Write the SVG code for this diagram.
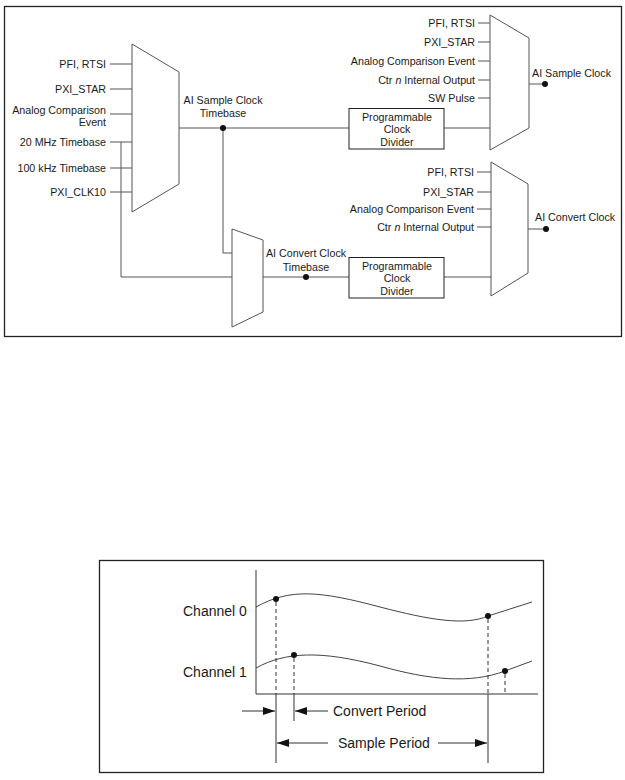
<svg xmlns="http://www.w3.org/2000/svg" width="625" height="780" viewBox="0 0 625 780">
<defs>
<style>
.frame{fill:none;stroke:#222;stroke-width:1.3}
.mux{fill:#fff;stroke:#555;stroke-width:1}
.ln{fill:none;stroke:#555;stroke-width:1}
.box{fill:#fff;stroke:#222;stroke-width:1}
.t{font-family:"Liberation Sans",Arial,sans-serif;font-size:10.7px;fill:#1a1a1a}
.r{text-anchor:end}
.c{text-anchor:middle}
.dot{fill:#111}
.t2{font-family:"Liberation Sans",Arial,sans-serif;font-size:14px;fill:#1a1a1a}
.wave{fill:none;stroke:#444;stroke-width:1}
.dash{fill:none;stroke:#333;stroke-width:1;stroke-dasharray:4,3}
.ax{fill:none;stroke:#333;stroke-width:1}
</style>
<marker id="ah" markerWidth="12" markerHeight="8" refX="12" refY="4" orient="auto" markerUnits="userSpaceOnUse">
<path d="M0,0 L12,4 L0,8 Z" fill="#111"/>
</marker>
</defs>
<rect x="0" y="0" width="625" height="780" fill="#fff"/>

<!-- Top diagram -->
<rect class="frame" x="4.5" y="6.5" width="617" height="330"/>

<g id="connectors">
<!-- left mux inputs -->
<line class="ln" x1="110" y1="64" x2="132" y2="64"/>
<line class="ln" x1="110" y1="89" x2="132" y2="89"/>
<line class="ln" x1="110" y1="114" x2="132" y2="114"/>
<line class="ln" x1="110" y1="142" x2="132" y2="142"/>
<line class="ln" x1="110" y1="168" x2="132" y2="168"/>
<line class="ln" x1="110" y1="192" x2="132" y2="192"/>
<polyline class="ln" points="121,142 121,277 232,277"/>
<!-- left mux output -->
<line class="ln" x1="179" y1="128" x2="349" y2="128"/>
<polyline class="ln" points="223,128 223,253 232,253"/>
<line class="ln" x1="444" y1="128" x2="490" y2="128"/>
<!-- right mux 1 inputs -->
<line class="ln" x1="478" y1="23" x2="490" y2="23"/>
<line class="ln" x1="478" y1="42" x2="490" y2="42"/>
<line class="ln" x1="478" y1="61" x2="490" y2="61"/>
<line class="ln" x1="478" y1="80" x2="490" y2="80"/>
<line class="ln" x1="478" y1="98" x2="490" y2="98"/>
<line class="ln" x1="529" y1="84" x2="545" y2="84"/>
<!-- right mux 2 inputs -->
<line class="ln" x1="477" y1="172" x2="491" y2="172"/>
<line class="ln" x1="477" y1="192" x2="491" y2="192"/>
<line class="ln" x1="477" y1="209" x2="491" y2="209"/>
<line class="ln" x1="477" y1="227" x2="491" y2="227"/>
<line class="ln" x1="528" y1="229" x2="546" y2="229"/>
<!-- second mux output -->
<line class="ln" x1="263" y1="277" x2="349" y2="277"/>
<line class="ln" x1="444" y1="277" x2="491" y2="277"/>
<circle class="dot" cx="223" cy="128" r="3"/>
<circle class="dot" cx="306" cy="277" r="3"/>
<circle class="dot" cx="545" cy="84" r="3"/>
<circle class="dot" cx="546" cy="229" r="3"/>
</g>

<g id="mux-left">
<polygon class="mux" points="132,44 179,72 179,184 132,212"/>
</g>
<g id="labels-left">
<text class="t r" x="106" y="67.5">PFI, RTSI</text>
<text class="t r" x="106" y="92.5">PXI_STAR</text>
<text class="t r" x="106" y="113.5">Analog Comparison</text>
<text class="t r" x="106" y="126">Event</text>
<text class="t r" x="106" y="145.5">20 MHz Timebase</text>
<text class="t r" x="106" y="171.5">100 kHz Timebase</text>
<text class="t r" x="106" y="195.5">PXI_CLK10</text>
</g>
<g id="label-sample-timebase">
<text class="t c" x="223" y="104">AI Sample Clock</text>
<text class="t c" x="223" y="116.5">Timebase</text>
</g>
<g id="mux-convert-timebase">
<polygon class="mux" points="232,229 263,240 263,312 232,327"/>
</g>
<g id="label-convert-timebase">
<text class="t c" x="306" y="257">AI Convert Clock</text>
<text class="t c" x="306" y="270.5">Timebase</text>
</g>
<g id="divider-1">
<rect class="box" x="349" y="108.5" width="95" height="40.5"/>
<text class="t c" x="397" y="120.5">Programmable</text>
<text class="t c" x="397" y="133">Clock</text>
<text class="t c" x="397" y="145.5">Divider</text>
</g>
<g id="divider-2">
<rect class="box" x="349" y="257.5" width="95" height="40.5"/>
<text class="t c" x="397" y="269.5">Programmable</text>
<text class="t c" x="397" y="282">Clock</text>
<text class="t c" x="397" y="294.5">Divider</text>
</g>
<g id="mux-sample-clock">
<polygon class="mux" points="490,15 529,38 529,128 490,150"/>
<text class="t r" x="475" y="26.5">PFI, RTSI</text>
<text class="t r" x="475" y="45.5">PXI_STAR</text>
<text class="t r" x="475" y="64.5">Analog Comparison Event</text>
<text class="t r" x="475" y="83.5">Ctr <tspan font-style="italic">n</tspan> Internal Output</text>
<text class="t r" x="475" y="101.5">SW Pulse</text>
<text class="t" x="532" y="77">AI Sample Clock</text>
</g>
<g id="mux-convert-clock">
<polygon class="mux" points="491,162 528,184 528,273 491,296"/>
<text class="t r" x="474" y="175.5">PFI, RTSI</text>
<text class="t r" x="474" y="195.5">PXI_STAR</text>
<text class="t r" x="474" y="212.5">Analog Comparison Event</text>
<text class="t r" x="474" y="230.5">Ctr <tspan font-style="italic">n</tspan> Internal Output</text>
<text class="t" x="535" y="221">AI Convert Clock</text>
</g>

<!-- Bottom timing diagram -->
<rect class="frame" x="99.5" y="560.5" width="444" height="212"/>
<g id="timing">
<polyline class="ax" points="256,570 256,694 538,694"/>
<path class="wave" d="M256,607 C290,588 320,591 380,607 C430,620 465,626 488,616 L532,602"/>
<path class="wave" d="M256,668 C285,652 320,650 380,666 C430,680 470,684 505,671 L532,661"/>
<circle class="dot" cx="276" cy="599" r="3"/>
<circle class="dot" cx="294" cy="655" r="3"/>
<circle class="dot" cx="488" cy="616" r="3"/>
<circle class="dot" cx="505" cy="671" r="3"/>
<line class="dash" x1="276" y1="602" x2="276" y2="694"/>
<line class="dash" x1="294" y1="658" x2="294" y2="694"/>
<line class="dash" x1="488" y1="619" x2="488" y2="694"/>
<line class="dash" x1="505" y1="674" x2="505" y2="694"/>
<line class="ax" x1="276" y1="694" x2="276" y2="763"/>
<line class="ax" x1="294" y1="694" x2="294" y2="721"/>
<line class="ax" x1="488" y1="694" x2="488" y2="763"/>
<line class="ax" x1="242" y1="711" x2="275" y2="711" marker-end="url(#ah)"/>
<line class="ax" x1="328" y1="711" x2="295" y2="711" marker-end="url(#ah)"/>
<line class="ax" x1="328" y1="743" x2="277" y2="743" marker-end="url(#ah)"/>
<line class="ax" x1="438" y1="743" x2="487" y2="743" marker-end="url(#ah)"/>
<text class="t2" x="183" y="616">Channel 0</text>
<text class="t2" x="183" y="677">Channel 1</text>
<text class="t2" x="333" y="716">Convert Period</text>
<text class="t2" x="338" y="748">Sample Period</text>
</g>
</svg>
